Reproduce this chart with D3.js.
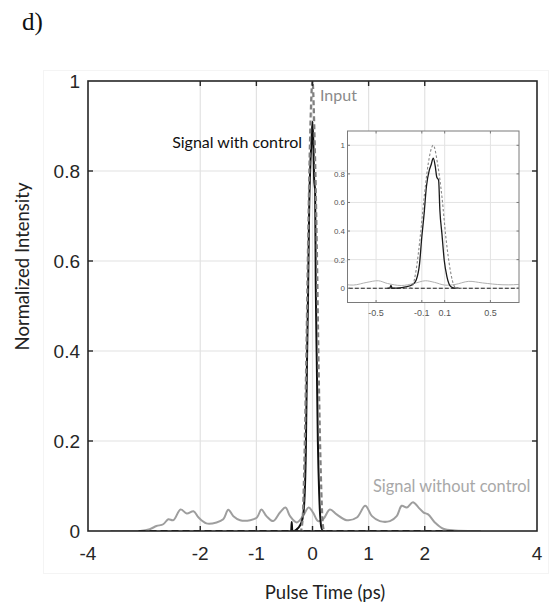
<!DOCTYPE html>
<html>
<head>
<meta charset="utf-8">
<script src="https://cdn.jsdelivr.net/npm/d3@7"></script>
<style>
  html, body { margin: 0; padding: 0; background: #fff; }
  svg { display: block; }
</style>
</head>
<body>
<div id="chart"></div>
<script>
// ---- data (time in ps, normalized intensity) ----
const inputT = [-0.25, -0.21, -0.18, -0.15, -0.114, -0.079, -0.044, 0, 0.038, 0.076, 0.11, 0.149, 0.184, 0.21, 0.25];
const inputI = [0, 0, 0.02, 0.126, 0.36, 0.64, 0.87, 1.0, 0.87, 0.64, 0.36, 0.126, 0.015, 0, 0];

const withCtrlT = [-0.40, -0.38, -0.37, -0.36, -0.33, -0.28, -0.24, -0.18, -0.15, -0.12, -0.10, -0.08, -0.06,
  -0.035, -0.02, 0, 0.018, 0.03, 0.047, 0.058, 0.076, 0.096, 0.12, 0.155, 0.19, 0.22];
const withCtrlI = [0, 0, 0.02, 0, 0, 0.004, 0.009, 0.026, 0.056, 0.17, 0.36, 0.52, 0.71,
  0.825, 0.86, 0.91, 0.85, 0.78, 0.755, 0.545, 0.38, 0.196, 0.08, 0.01, 0, 0];

// black dashed trace lying on the baseline
const ctrlBaseT = [-3.1, 2.55];
const ctrlBaseI = [0, 0];

const noCtrlT = [-3.6, -3.07, -2.9, -2.78, -2.66, -2.57, -2.48, -2.35, -2.24, -2.12, -2.03, -1.89, -1.71, -1.59,
  -1.50, -1.41, -1.29, -1.11, -0.99, -0.91, -0.82, -0.70, -0.58, -0.48, -0.40, -0.28, -0.17, -0.07, 0.01,
  0.10, 0.19, 0.31, 0.43, 0.61, 0.79, 0.94, 1.06, 1.20, 1.38, 1.50, 1.59, 1.68, 1.79, 1.89, 1.98, 2.06,
  2.18, 2.33, 2.54, 3.0];
const noCtrlI = [0, 0, 0.004, 0.011, 0.015, 0.026, 0.024, 0.048, 0.039, 0.044, 0.030, 0.017, 0.019, 0.026,
  0.047, 0.033, 0.024, 0.024, 0.030, 0.048, 0.033, 0.022, 0.041, 0.052, 0.033, 0.019, 0.033, 0.052, 0.041,
  0.022, 0.026, 0.048, 0.037, 0.024, 0.030, 0.056, 0.033, 0.022, 0.022, 0.033, 0.056, 0.052, 0.064, 0.052,
  0.041, 0.037, 0.019, 0.005, 0.001, 0];

const mainXTicks = [-4, -2, -1, 0, 1, 2, 4];
const mainXGrid = [-2, -1, 0, 1, 2];
const mainYTicks = [0, 0.2, 0.4, 0.6, 0.8, 1];
const insetXTicks = [-0.5, -0.1, 0.1, 0.5];
const insetYTicks = [0, 0.2, 0.4, 0.6, 0.8, 1];

const W = 552, H = 614;
const zip = (t, v) => t.map((d, i) => [d, v[i]]);

const svg = d3.select('#chart').append('svg')
  .attr('width', W).attr('height', H)
  .attr('viewBox', `0 0 ${W} ${H}`);

// faint figure frame
svg.append('rect')
  .attr('x', 43.5).attr('y', 70.5).attr('width', 505).attr('height', 503)
  .attr('fill', 'none').attr('stroke', '#f4f4f4');

svg.append('text')
  .attr('x', 22).attr('y', 30)
  .attr('font-family', 'Liberation Serif, Times New Roman, serif')
  .attr('font-size', 25).attr('fill', '#111')
  .text('d)');

// ================= main plot =================
const x = d3.scaleLinear().domain([-4, 4]).range([88, 537]);
const y = d3.scaleLinear().domain([0, 1]).range([531, 81]);

svg.append('clipPath').attr('id', 'clip-main')
  .append('rect').attr('x', 88).attr('y', 81).attr('width', 449).attr('height', 450);

const gMain = svg.append('g');

gMain.selectAll('line.vg').data(mainXGrid).join('line')
  .attr('x1', d => x(d)).attr('x2', d => x(d))
  .attr('y1', y(0)).attr('y2', y(1))
  .attr('stroke', '#e2e2e2').attr('stroke-width', 1.2);
gMain.selectAll('line.hg').data(mainYTicks.slice(1, -1)).join('line')
  .attr('x1', x(-4)).attr('x2', x(4))
  .attr('y1', d => y(d)).attr('y2', d => y(d))
  .attr('stroke', '#e2e2e2').attr('stroke-width', 1.2);

const line = (sx, sy, curve) => d3.line().x(d => sx(d[0])).y(d => sy(d[1])).curve(curve);
const smooth = d3.curveCatmullRom.alpha(0.5);

const gCurves = gMain.append('g').attr('clip-path', 'url(#clip-main)');
gCurves.append('path')
  .attr('d', line(x, y, smooth)(zip(noCtrlT, noCtrlI)))
  .attr('fill', 'none').attr('stroke', '#9e9e9e').attr('stroke-width', 2);
gCurves.append('path')
  .attr('d', line(x, y, d3.curveLinear)(zip(ctrlBaseT, ctrlBaseI)))
  .attr('fill', 'none').attr('stroke', '#111').attr('stroke-width', 2)
  .attr('stroke-dasharray', '7 4');
gCurves.append('path')
  .attr('d', line(x, y, d3.curveMonotoneX)(zip(withCtrlT, withCtrlI)))
  .attr('fill', 'none').attr('stroke', '#111').attr('stroke-width', 2);
gCurves.append('path')
  .attr('d', line(x, y, d3.curveMonotoneX)(zip(inputT, inputI)))
  .attr('fill', 'none').attr('stroke', '#808080').attr('stroke-width', 2.2)
  .attr('stroke-dasharray', '5 3');

// frame + inward ticks on all sides
gMain.append('rect')
  .attr('x', 88).attr('y', 81).attr('width', 449).attr('height', 450)
  .attr('fill', 'none').attr('stroke', '#262626').attr('stroke-width', 1.6);
const TK = 5;
gMain.selectAll('line.xt').data(mainXTicks.slice(1, -1)).join('line')
  .attr('x1', d => x(d)).attr('x2', d => x(d))
  .attr('y1', y(0)).attr('y2', y(0) - TK)
  .attr('stroke', '#262626').attr('stroke-width', 1.4);
gMain.selectAll('line.xtt').data(mainXTicks.slice(1, -1)).join('line')
  .attr('x1', d => x(d)).attr('x2', d => x(d))
  .attr('y1', y(1)).attr('y2', y(1) + TK)
  .attr('stroke', '#262626').attr('stroke-width', 1.4);
gMain.selectAll('line.yt').data(mainYTicks.slice(1, -1)).join('line')
  .attr('x1', x(-4)).attr('x2', x(-4) + TK)
  .attr('y1', d => y(d)).attr('y2', d => y(d))
  .attr('stroke', '#262626').attr('stroke-width', 1.4);
gMain.selectAll('line.ytr').data(mainYTicks.slice(1, -1)).join('line')
  .attr('x1', x(4)).attr('x2', x(4) - TK)
  .attr('y1', d => y(d)).attr('y2', d => y(d))
  .attr('stroke', '#262626').attr('stroke-width', 1.4);

const tickFont = 'Liberation Sans, Arial, sans-serif';
gMain.selectAll('text.xl').data(mainXTicks).join('text')
  .attr('x', d => x(d)).attr('y', 560)
  .attr('text-anchor', 'middle')
  .attr('font-family', tickFont).attr('font-size', 19).attr('fill', '#262626')
  .text(d => d);
gMain.selectAll('text.yl').data(mainYTicks).join('text')
  .attr('x', 80).attr('y', d => y(d) + 7)
  .attr('text-anchor', 'end')
  .attr('font-family', tickFont).attr('font-size', 19).attr('fill', '#262626')
  .text(d => d);

const labelFont = 'Lato, Open Sans, sans-serif';
svg.append('text')
  .attr('transform', `translate(29,${(175 + 358) / 2}) rotate(-90)`)
  .attr('text-anchor', 'middle')
  .attr('font-family', labelFont).attr('font-size', 18.5).attr('fill', '#222')
  .text('Normalized Intensity');
svg.append('text')
  .attr('x', 325).attr('y', 599)
  .attr('text-anchor', 'middle')
  .attr('font-family', labelFont).attr('font-size', 18.5).attr('fill', '#222')
  .text('Pulse Time (ps)');

// curve labels
svg.append('text')
  .attr('x', 320).attr('y', 101)
  .attr('font-family', labelFont).attr('font-size', 16).attr('fill', '#8a8a8a')
  .text('Input');
svg.append('text')
  .attr('x', 302).attr('y', 148).attr('text-anchor', 'end')
  .attr('font-family', labelFont).attr('font-size', 16).attr('fill', '#111')
  .text('Signal with control');
svg.append('text')
  .attr('x', 373).attr('y', 492)
  .attr('font-family', labelFont).attr('font-size', 16.4).attr('fill', '#a8a8a8')
  .text('Signal without control');

// ================= inset =================
const xi = d3.scaleLinear().domain([-0.75, 0.75]).range([347.5, 519]);
const yi = d3.scaleLinear().domain([-0.1, 1.1]).range([302.5, 131]);

svg.append('clipPath').attr('id', 'clip-inset')
  .append('rect').attr('x', 347.5).attr('y', 131).attr('width', 171.5).attr('height', 171.5);

const gIn = svg.append('g');
gIn.append('rect')
  .attr('x', 347.5).attr('y', 131).attr('width', 171.5).attr('height', 171.5)
  .attr('fill', '#fff');

gIn.selectAll('line.vg').data(insetXTicks).join('line')
  .attr('x1', d => xi(d)).attr('x2', d => xi(d))
  .attr('y1', 131).attr('y2', 302.5)
  .attr('stroke', '#e3e3e3').attr('stroke-width', 1);
gIn.selectAll('line.hg').data(insetYTicks).join('line')
  .attr('x1', 347.5).attr('x2', 519)
  .attr('y1', d => yi(d)).attr('y2', d => yi(d))
  .attr('stroke', '#e3e3e3').attr('stroke-width', 1);

const gInC = gIn.append('g').attr('clip-path', 'url(#clip-inset)');
gInC.append('path')
  .attr('d', line(xi, yi, smooth)(zip(noCtrlT, noCtrlI)))
  .attr('fill', 'none').attr('stroke', '#b0b0b0').attr('stroke-width', 1);
gInC.append('path')
  .attr('d', line(xi, yi, d3.curveLinear)(zip(ctrlBaseT, ctrlBaseI)))
  .attr('fill', 'none').attr('stroke', '#222').attr('stroke-width', 1.1)
  .attr('stroke-dasharray', '4 2');
gInC.append('path')
  .attr('d', line(xi, yi, d3.curveMonotoneX)(zip(withCtrlT, withCtrlI)))
  .attr('fill', 'none').attr('stroke', '#1a1a1a').attr('stroke-width', 1.3);
gInC.append('path')
  .attr('d', line(xi, yi, d3.curveMonotoneX)(zip(inputT, inputI)))
  .attr('fill', 'none').attr('stroke', '#888').attr('stroke-width', 1.1)
  .attr('stroke-dasharray', '2.5 2');

gIn.append('rect')
  .attr('x', 347.5).attr('y', 131).attr('width', 171.5).attr('height', 171.5)
  .attr('fill', 'none').attr('stroke', '#7a7a7a').attr('stroke-width', 1);
const TKi = 2.5;
gIn.selectAll('line.xt').data(insetXTicks).join('line')
  .attr('x1', d => xi(d)).attr('x2', d => xi(d))
  .attr('y1', 302.5).attr('y2', 302.5 - TKi)
  .attr('stroke', '#7a7a7a');
gIn.selectAll('line.xtt').data(insetXTicks).join('line')
  .attr('x1', d => xi(d)).attr('x2', d => xi(d))
  .attr('y1', 131).attr('y2', 131 + TKi)
  .attr('stroke', '#7a7a7a');
gIn.selectAll('line.yt').data(insetYTicks).join('line')
  .attr('x1', 347.5).attr('x2', 347.5 + TKi)
  .attr('y1', d => yi(d)).attr('y2', d => yi(d))
  .attr('stroke', '#7a7a7a');
gIn.selectAll('line.ytr').data(insetYTicks).join('line')
  .attr('x1', 519).attr('x2', 519 - TKi)
  .attr('y1', d => yi(d)).attr('y2', d => yi(d))
  .attr('stroke', '#7a7a7a');

gIn.selectAll('text.xl').data(insetXTicks).join('text')
  .attr('x', d => xi(d)).attr('y', 316)
  .attr('text-anchor', 'middle')
  .attr('font-family', tickFont).attr('font-size', 9).attr('fill', '#555')
  .text(d => d);
gIn.selectAll('text.yl').data(insetYTicks).join('text')
  .attr('x', 345).attr('y', d => yi(d) + 3)
  .attr('text-anchor', 'end')
  .attr('font-family', tickFont).attr('font-size', 8).attr('fill', '#555')
  .text(d => d);
</script>
</body>
</html>
